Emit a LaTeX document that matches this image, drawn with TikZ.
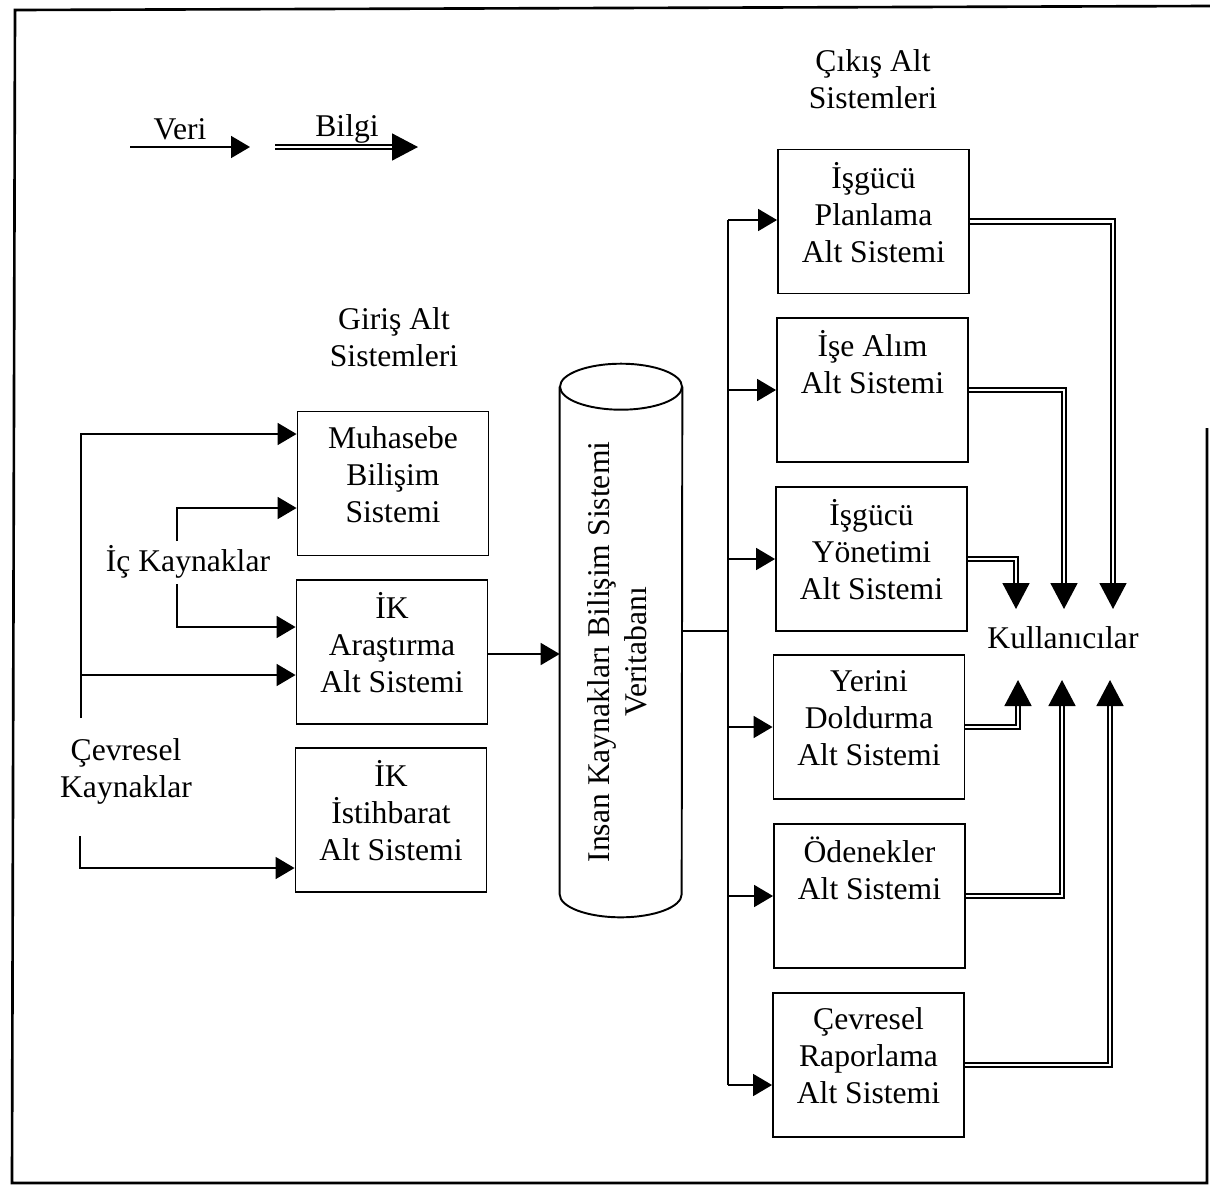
\documentclass[tikz,border=0pt]{standalone}
\usepackage{fontspec}
\setmainfont{Liberation Serif}
\usetikzlibrary{arrows.meta}
\begin{document}
\begin{tikzpicture}[x=0.02cm,y=-0.02cm,
  every node/.style={font=\fontsize{18}{21}\selectfont, align=center, inner sep=0pt},
  box/.style={draw, line width=1.1pt, minimum width=3.82cm, minimum height=2.88cm, text depth=10.5pt},
  veri/.style={line width=1pt, -{Triangle[length=0.38cm,width=0.44cm]}},
  bilgi/.style={double, double distance=1.6pt, line width=0.95pt, -{Triangle[length=0.52cm,width=0.54cm]}},
  plain/.style={line width=1pt}]
\useasboundingbox (0,0) rectangle (1210,1187);
% frame
\draw[line width=1.5pt] (1207,428) -- (1207,1183) -- (12,1183) -- (15,10) -- (1210,6);

% legend
\coordinate (va) at (130,147); \coordinate (vb) at (250,147);
\coordinate (ba) at (275,147); \coordinate (bb) at (418,147);
\draw[veri] (va) -- (vb);
\draw[bilgi] (ba) -- (bb);
\node (vlab) at (180,129) {Veri};
\node (blab) at (347,129) {Bilgi};

% titles
\node (giris) at (394,337) {Giriş Alt\\Sistemleri};
\node (cikis) at (873,79) {Çıkış Alt\\Sistemleri};

% left boxes
\node[box] (muh) at (393,483.5) {Muhasebe\\Bilişim\\Sistemi};
\node[box] (ara) at (392,652) {İK\\Araştırma\\Alt Sistemi};
\node[box] (ist) at (391,820) {İK\\İstihbarat\\Alt Sistemi};

% right boxes
\node[box] (plan) at (873.5,221.5) {İşgücü\\Planlama\\Alt Sistemi};
\node[box] (alim) at (872.5,390) {İşe Alım\\Alt Sistemi\\\strut};
\node[box] (yon) at (871.5,559) {İşgücü\\Yönetimi\\Alt Sistemi};
\node[box] (yer) at (869,727) {Yerini\\Doldurma\\Alt Sistemi};
\node[box] (ode) at (869.5,896) {Ödenekler\\Alt Sistemi\\\strut};
\node[box] (cev) at (868.5,1065) {Çevresel\\Raporlama\\Alt Sistemi};

% database cylinder
\node[minimum width=2.44cm, minimum height=10.14cm] (db) at (621,640.5) {};
\draw[line width=1.1pt] (db.north west) -- (db.south west)
  arc[start angle=180, end angle=360, x radius=61, y radius=-23] -- (db.north east);
\draw[line width=1.1pt] (db.north) ellipse [x radius=61, y radius=23];
\node[rotate=90] (dbt) at (617,652) {Insan Kaynakları Bilişim Sistemi\\Veritabanı};

% left labels
\node (ic) at (188,562) {İç Kaynaklar};
\node (cevk) at (126,771) {Çevresel\\Kaynaklar};

% left connectors
\coordinate (c1) at (81,718);
\coordinate (c2) at (81,675);
\coordinate (c3) at (80,836);
\coordinate (i1) at (177,541);
\coordinate (i2) at (177,584);
\draw[veri] (c1) |- (muh.west |- 0,434);
\draw[veri] (c2) -- (ara.west |- c2);
\draw[veri] (c3) |- (ist.west |- 0,868);
\draw[veri] (i1) |- (muh.west |- 0,508);
\draw[veri] (i2) |- (ara.west |- 0,627);

% into database
\draw[veri] (ara.east |- 0,654) -- (db.west |- 0,654);

% bus
\coordinate (bus) at (728,631);
\coordinate (bustop) at (728,220);
\coordinate (busbot) at (728,1085);
\draw[plain] (db.east |- bus) -- (bus);
\draw[plain] (bustop) -- (busbot);
\draw[veri] (bustop) -- (plan.west |- bustop);
\draw[veri] (bus |- alim.west) -- (alim.west);
\draw[veri] (bus |- yon.west) -- (yon.west);
\draw[veri] (bus |- yer.west) -- (yer.west);
\draw[veri] (bus |- ode.west) -- (ode.west);
\draw[veri] (busbot) -- (cev.west |- busbot);

% users
\node (kul) at (1063,638) {Kullanıcılar};
\coordinate (d1) at (1016,609);
\coordinate (d2) at (1064,609);
\coordinate (d3) at (1113,609);
\coordinate (u1) at (1018,680);
\coordinate (u2) at (1062,680);
\coordinate (u3) at (1110,680);
\draw[bilgi] (plan.east) -| (d3);
\draw[bilgi] (alim.east) -| (d2);
\draw[bilgi] (yon.east) -| (d1);
\draw[bilgi] (yer.east) -| (u1);
\draw[bilgi] (ode.east) -| (u2);
\draw[bilgi] (cev.east) -| (u3);
\end{tikzpicture}
\end{document}
